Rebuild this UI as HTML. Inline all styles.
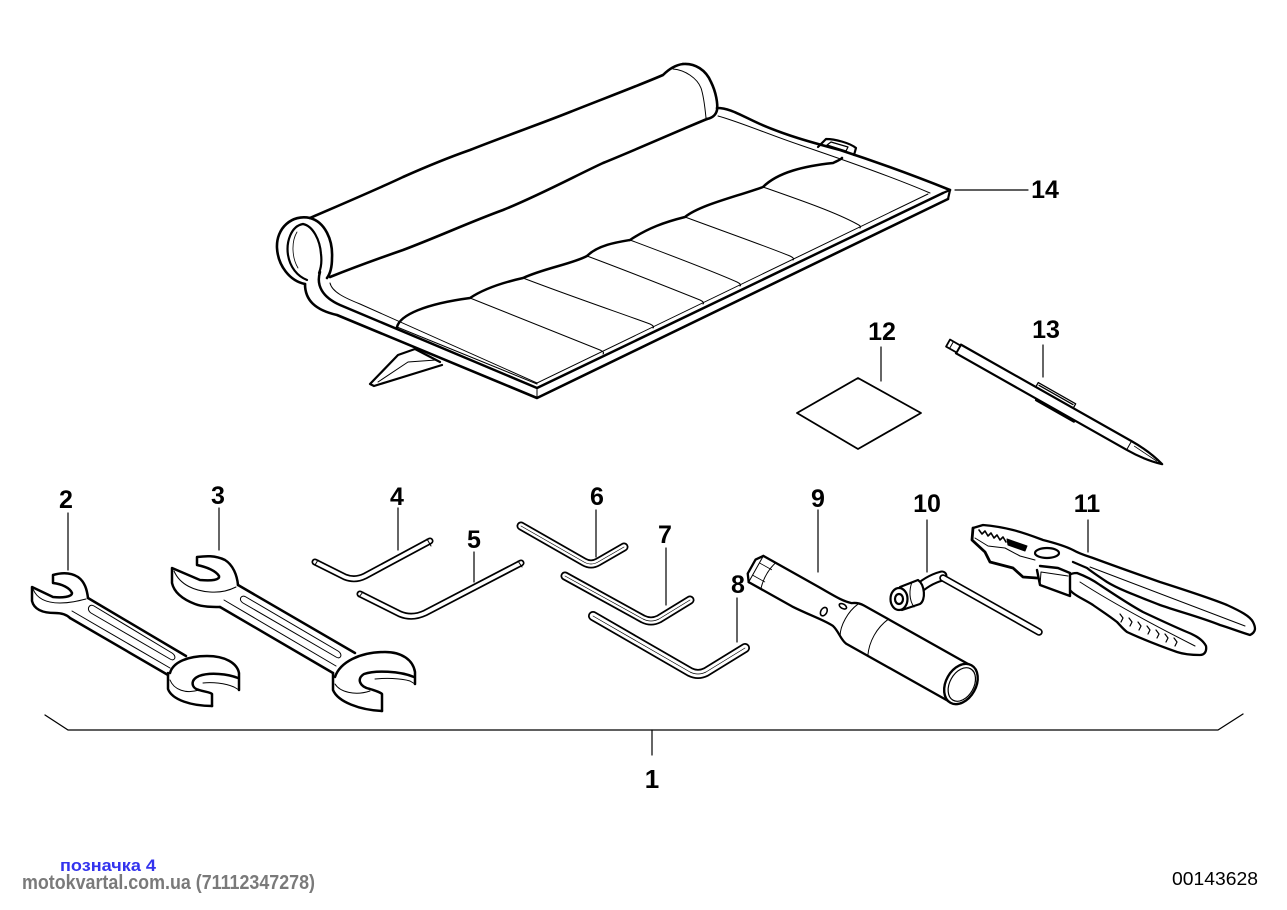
<!DOCTYPE html>
<html><head><meta charset="utf-8">
<style>
html,body{margin:0;padding:0;background:#fff;}
svg{display:block;}
.lb{font-family:"Liberation Sans",Arial,sans-serif;font-weight:bold;font-size:25px;fill:#000;text-anchor:middle;}
</style></head><body>
<svg width="1287" height="910" viewBox="0 0 1287 910" xmlns="http://www.w3.org/2000/svg">
<rect width="1287" height="910" fill="#fff"/>
<g fill="none" stroke="#000" stroke-linejoin="round" stroke-linecap="round">

<!-- ===== TOOL ROLL (14) ===== -->
<path d="M 440,362 L 415,349 L 398,355 L 370,384 L 374,386 L 442,365" stroke-width="2.2"/>
<path d="M 378,382 L 408,362 L 436,360" stroke-width="1"/>
<path d="M 305,284 C 305,300 315,310 337,315 L 537,398 L 948,199 L 950,190 L 853,155 L 717,108 L 330,277 Z" fill="#fff" stroke="none"/>

<path d="M 310,218 C 340,205 380,188 403,177 C 430,165 450,157 470,150 C 500,138 540,124 570,112 C 600,100 640,85 663,75 C 668,70 675,65 683,64" stroke-width="2.6"/>
<path d="M 683,64 C 695,63 706,70 711,82 C 716,92 718,104 717,110 C 716,115 712,118 707,119" stroke-width="2.6"/>
<path d="M 673,69 C 685,70 697,78 701,88 C 704,97 705,108 706,118" stroke-width="1"/>
<path d="M 330,277 C 360,265 380,258 403,250 C 440,236 470,222 503,210 C 540,195 575,176 603,163 C 640,148 680,130 707,119" stroke-width="2.6"/>
<path d="M 310,218 C 292,214 276,228 277,248 C 278,266 290,281 305,284" stroke-width="2.6"/>
<path d="M 310,218 C 325,222 333,240 332,258 C 332,268 330,274 327,278" stroke-width="2.6"/>
<path d="M 303,224 C 291,226 286,242 288,255 C 290,267 297,276 307,280" stroke-width="2.2"/>
<path d="M 303,224 C 313,226 320,240 321,254 C 322,262 321,268 319,273" stroke-width="2.2"/>
<path d="M 297,232 C 291,242 292,258 298,268" stroke-width="0.8"/>

<path d="M 320,272 C 316,285 322,297 340,305 L 537,388 L 943,193" stroke-width="2.5"/>
<path d="M 305,284 C 305,300 315,310 337,315 L 537,398 L 948,199" stroke-width="2.6"/>
<path d="M 943,193 L 950,190 L 948,199" stroke-width="2.2"/>
<path d="M 537,388 L 537,398" stroke-width="1"/>
<path d="M 330,283 C 332,292 345,298 360,304 L 537,383 L 928,194" stroke-width="1"/>
<path d="M 717,108 C 730,108 740,115 760,124 C 785,135 810,142 840,150 C 880,163 920,178 950,190" stroke-width="2.6"/>
<path d="M 718,116 C 740,122 770,135 800,145 C 850,162 895,178 930,193" stroke-width="1"/>
<path d="M 818,147 L 826,139 C 835,139 850,143 856,148 L 854,155" stroke-width="2.2"/>
<path d="M 827,145 L 831,142 L 848,147 L 846,151 Z" stroke-width="1.2"/>
<path d="M 397,327 C 400,315 425,304 470,298 C 485,288 505,282 523,278 C 545,268 572,264 587,256 C 598,245 618,242 630,240 C 648,228 665,222 685,217 C 700,205 735,197 763,187 C 778,172 805,166 833,163 C 837,161 840,160 842,158" stroke-width="2.5"/>
<g stroke-width="1">
<path d="M 470,298 C 520,318 570,338 600,350 C 604,352 604,353 603,354"/>
<path d="M 523,278 C 570,296 620,313 650,324 C 654,326 654,327 653,328"/>
<path d="M 587,256 C 630,272 670,288 700,300 C 704,302 704,303 703,304"/>
<path d="M 630,240 C 670,255 710,270 737,282 C 741,284 741,285 740,286"/>
<path d="M 685,217 C 720,230 760,244 790,256 C 794,258 794,259 793,260"/>
<path d="M 763,187 C 800,200 835,212 857,224 C 861,226 861,227 860,228"/>
<path d="M 397,327 L 537,384"/>
</g>
<path d="M 955,190 L 1028,190" stroke-width="1.2"/>

<!-- ===== 12 square ===== -->
<path d="M 858,378 L 921,413 L 858,449 L 797,413 Z" stroke-width="1.8"/>
<path d="M 881,347 L 881,381" stroke-width="1.2"/>

<!-- ===== 13 pen ===== -->
<g transform="translate(955,347) rotate(29.5)">
<path d="M 4,-5 L 200,-5 C 215,-5 228,-3 238,0 C 228,3 215,5 200,5 L 4,5 Z" fill="#fff" stroke-width="2.2"/>
<path d="M -8,-4 L 4,-4 L 4,4 L -8,4 Z" fill="#fff" stroke-width="1.8"/>
<path d="M -4,-4 L -4,4" stroke-width="1"/>
<path d="M 200,-5 L 200,5" stroke-width="1"/>
<path d="M 205,-2 L 232,0" stroke-width="0.8"/>
<path d="M 90,-10 L 133,-10 L 133,-5 M 90,-10 L 90,-5 M 92,-8 L 131,-8" stroke-width="1.3"/>
<path d="M 97,6 L 140,6" stroke-width="3"/>
</g>
<path d="M 1043,345 L 1043,377" stroke-width="1.2"/>

<!-- ===== 2 wrench ===== -->
<g stroke-width="2.5">
<path d="M 88,598 C 87,590 85,582 78,577 C 70,572 60,573 53,575 L 53,583 C 62,584 70,588 72,593 C 72,597 62,598 53,597 L 32,587 L 32,601 C 34,609 42,613 55,613 C 62,613 67,615 70,618"/>
<path d="M 88,598 L 186,656"/>
<path d="M 70,618 L 168,675"/>
<path d="M 170,673 C 173,662 188,656 207,656 C 225,656 237,663 239,673 L 239,690"/>
<path d="M 238,678 C 228,674 210,672 199,676 C 190,680 191,688 199,690 C 205,692 210,692 212,694 L 212,706"/>
<path d="M 168,673 L 168,689 C 172,700 192,706 212,706"/>
</g>
<g stroke-width="1">
<path d="M 33,589 C 37,599 47,603 60,603 C 70,603 78,601 86,599"/>
<path d="M 72,611 L 170,668"/>
<path d="M 94,606 L 172,653 C 177,656 175,662 170,659 L 91,613 C 86,610 89,603 94,606 Z"/>
<path d="M 239,690 L 234,687 C 225,683 212,682 203,683"/>
<path d="M 170,680 C 174,690 186,694 199,690"/>
</g>
<path d="M 68,513 L 68,570" stroke-width="1.2"/>

<!-- ===== 3 wrench ===== -->
<g stroke-width="2.5">
<path d="M 238,585 C 237,575 233,565 225,560 C 215,555 205,556 197,557 L 197,565 C 207,567 216,571 219,576 C 220,580 212,581 200,580 L 172,568 L 172,583 C 174,592 182,599 195,604 C 203,607 212,607 220,607"/>
<path d="M 238,585 L 355,653"/>
<path d="M 220,607 L 333,673"/>
<path d="M 335,677 C 340,662 360,652 385,652 C 402,652 413,660 415,672 L 415,684"/>
<path d="M 414,677 C 400,671 375,670 364,674 C 356,679 360,687 370,689 C 376,691 380,692 382,694 L 382,711"/>
<path d="M 333,673 L 333,690 C 338,702 360,710 382,711"/>
</g>
<g stroke-width="1">
<path d="M 174,571 C 180,585 195,591 210,592 C 222,593 230,590 236,587"/>
<path d="M 224,600 L 336,666"/>
<path d="M 246,597 L 338,651 C 343,654 341,660 336,657 L 243,603 C 238,600 241,594 246,597 Z"/>
<path d="M 415,684 L 410,681 C 400,678 385,678 375,679"/>
<path d="M 335,684 C 340,692 355,696 370,691"/>
</g>
<path d="M 219,508 L 219,550" stroke-width="1.2"/>

<!-- ===== hex keys ===== -->
<g>
<path d="M 315,562 L 345,577 Q 355,581 365,576 L 430,541" stroke-width="7"/>
<path d="M 315,562 L 345,577 Q 355,581 365,576 L 430,541" stroke="#fff" stroke-width="3.6"/>
<path d="M 360,594 L 400,614 Q 412,619 425,613 L 521,563" stroke-width="7"/>
<path d="M 360,594 L 400,614 Q 412,619 425,613 L 521,563" stroke="#fff" stroke-width="3.6"/>
<path d="M 521,526 L 584,562 Q 591,566 598,562 L 624,547" stroke-width="9"/>
<path d="M 521,526 L 584,562 Q 591,566 598,562 L 624,547" stroke="#fff" stroke-width="5.5"/>
<path d="M 521,526 L 584,562 Q 591,566 598,562 L 624,547" stroke-width="0.7"/>
<path d="M 565,576 L 643,619 Q 651,623 659,619 L 690,600" stroke-width="9"/>
<path d="M 565,576 L 643,619 Q 651,623 659,619 L 690,600" stroke="#fff" stroke-width="5.5"/>
<path d="M 565,576 L 643,619 Q 651,623 659,619 L 690,600" stroke-width="0.7"/>
<path d="M 593,616 L 690,672 Q 698,676 706,672 L 745,648" stroke-width="10"/>
<path d="M 593,616 L 690,672 Q 698,676 706,672 L 745,648" stroke="#fff" stroke-width="6.5"/>
<path d="M 593,616 L 690,672 Q 698,676 706,672 L 745,648" stroke-width="0.7"/>
<path d="M 427,539 L 431,546 M 518,561 L 522,567 M 318,560 L 315,565 M 363,592 L 359,597" stroke-width="1"/>
</g>
<path d="M 398,508 L 398,550" stroke-width="1.2"/>
<path d="M 474,552 L 474,582" stroke-width="1.2"/>
<path d="M 596,510 L 596,557" stroke-width="1.2"/>
<path d="M 666,548 L 666,605" stroke-width="1.2"/>
<path d="M 737,598 L 737,642" stroke-width="1.2"/>

<!-- ===== 9 tube wrench ===== -->
<g transform="translate(756,569) rotate(29.3)">
<path d="M 0,-15 L 60,-15 C 80,-15 90,-14 100,-17 C 104,-20 108,-21 112,-21 L 234,-21 L 234,21 L 115,21 C 108,20 103,14 95,12 C 85,11 70,14 50,15 L 0,15 Z" fill="#fff" stroke="none"/>
<path d="M 0,-15 L 60,-15 C 80,-15 90,-14 100,-17 C 104,-20 108,-21 112,-21 L 234,-21" stroke-width="2.3"/>
<path d="M 0,15 L 50,15 C 70,14 85,11 95,12 C 103,14 108,20 115,21 L 234,21" stroke-width="2.3"/>
<path d="M 0,-15 L -5,-8 L -5,8 L 0,15" stroke-width="2.3"/>
<path d="M 0,-15 L 0,15" stroke-width="1"/>
<path d="M 14,-15 C 11,-5 11,5 14,15" stroke-width="1"/>
<path d="M 0,-7 L 14,-7 M 0,7 L 14,7" stroke-width="0.8"/>
<path d="M 106,-19 C 101,-8 101,8 106,17" stroke-width="1"/>
<path d="M 140,-21 C 134,-8 134,8 140,21" stroke-width="1"/>
<ellipse cx="80" cy="4" rx="3" ry="4.5" stroke-width="1.6"/>
<ellipse cx="94" cy="-10" rx="4" ry="2.2" stroke-width="1.6"/>
<ellipse cx="235" cy="0" rx="15" ry="21.5" fill="#fff" stroke-width="2.4"/>
<ellipse cx="236" cy="0" rx="12" ry="18" stroke-width="1.2"/>
</g>
<path d="M 818,510 L 818,572" stroke-width="1.2"/>

<!-- ===== 10 socket wrench ===== -->
<path d="M 915,592 Q 927,580 942,576" stroke-width="11"/>
<path d="M 915,592 Q 927,580 942,576" stroke="#fff" stroke-width="7"/>
<path d="M 943,578 L 1039,632" stroke-width="7.5"/>
<path d="M 943,578 L 1039,632" stroke="#fff" stroke-width="4.2"/>
<path d="M 900,587 L 918,580 C 925,585 926,600 920,604 L 902,610 Z" fill="#fff" stroke-width="2.2"/>
<path d="M 912,582 C 909,590 909,600 914,607" stroke-width="1"/>
<ellipse cx="899" cy="599" rx="8.5" ry="11" fill="#fff" stroke-width="2.2"/>
<ellipse cx="899" cy="599" rx="4" ry="5" stroke-width="2.2"/>
<path d="M 927,520 L 927,572" stroke-width="1.2"/>

<!-- ===== 11 pliers ===== -->
<path d="M 1067,582 C 1066,576 1070,573 1077,573 C 1085,576 1093,580 1100,585 C 1115,595 1130,605 1143,612 C 1160,620 1175,627 1187,632 C 1197,636 1203,640 1206,646 C 1207,652 1204,655 1200,655 C 1190,655 1183,654 1177,652 C 1160,646 1140,638 1127,632 C 1122,628 1120,625 1117,622 C 1108,615 1100,610 1093,605 C 1085,600 1078,597 1073,593 C 1069,590 1067,586 1067,582 Z" fill="#fff" stroke-width="2.3"/>
<path d="M 973,528 L 983,525 C 995,526 1005,528 1013,530 C 1025,533 1035,537 1043,540 C 1055,543 1065,546 1073,550 C 1080,554 1087,556 1093,558 C 1120,568 1140,575 1160,582 C 1185,590 1210,598 1227,605 C 1240,611 1250,616 1253,622 C 1256,628 1256,632 1250,635 C 1240,632 1230,628 1220,625 C 1200,617 1180,612 1160,605 C 1140,597 1120,590 1107,582 C 1098,576 1092,572 1087,568 L 1073,562" fill="#fff" stroke-width="2.3"/>
<path d="M 973,528 L 972,540 L 985,552 L 990,562 L 1013,568 L 1023,577 L 1037,578" stroke-width="2.8"/>
<path d="M 975,538 L 988,546 L 1005,548 L 1020,556 L 1035,560" stroke-width="1"/>
<path d="M 979,530 l 3,4 l 3,-3 l 3,5 l 3,-3 l 3,5 l 3,-3 l 3,5 l 3,-3 l 3,5" stroke-width="1.6"/>
<path d="M 1007,539 L 1027,546 L 1025,551 L 1008,545 Z" fill="#000" stroke-width="1"/>
<ellipse cx="1047" cy="553" rx="12" ry="5" stroke-width="2.2"/>
<path d="M 1037,570 L 1040,585 L 1070,596 L 1070,573 L 1058,568 L 1040,566" fill="#fff" stroke-width="2.4"/>
<path d="M 1040,585 L 1041,572 L 1068,576" stroke-width="1"/>
<path d="M 1090,567 L 1245,626" stroke-width="1"/>
<path d="M 1080,582 C 1100,595 1140,618 1195,646" stroke-width="1"/>
<g stroke-width="1.2">
<path d="M 1120,614 l 3,4 l -2,4"/>
<path d="M 1129,618 l 3,4 l -2,4"/>
<path d="M 1138,622 l 3,4 l -2,4"/>
<path d="M 1147,626 l 3,4 l -2,4"/>
<path d="M 1156,630 l 3,4 l -2,4"/>
<path d="M 1165,634 l 3,4 l -2,4"/>
<path d="M 1174,638 l 3,4 l -2,4"/>
</g>
<path d="M 1088,520 L 1088,552" stroke-width="1.2"/>

<!-- ===== bracket 1 ===== -->
<path d="M 45,715 L 68,730 L 1218,730 L 1243,714" stroke-width="1.3"/>
<path d="M 652,730 L 652,755" stroke-width="1.2"/>
</g>

<!-- labels -->
<text class="lb" x="1045" y="198">14</text>
<text class="lb" x="882" y="340">12</text>
<text class="lb" x="1046" y="338">13</text>
<text class="lb" x="66" y="508">2</text>
<text class="lb" x="218" y="504">3</text>
<text class="lb" x="397" y="505">4</text>
<text class="lb" x="474" y="548">5</text>
<text class="lb" x="597" y="505">6</text>
<text class="lb" x="665" y="543">7</text>
<text class="lb" x="738" y="593">8</text>
<text class="lb" x="818" y="507">9</text>
<text class="lb" x="927" y="512">10</text>
<text class="lb" x="1087" y="512">11</text>
<text class="lb" x="652" y="788" style="font-size:26px">1</text>

<text x="60" y="871" textLength="96" lengthAdjust="spacingAndGlyphs" style="font-family:'Liberation Sans',sans-serif;font-weight:bold;font-size:17px;fill:#3333ee;">позначка 4</text>
<text x="22" y="889" textLength="293" lengthAdjust="spacingAndGlyphs" style="font-family:'Liberation Sans',sans-serif;font-weight:bold;font-size:20px;fill:#7a7a7a;">motokvartal.com.ua (71112347278)</text>
<text x="1172" y="885" textLength="86" lengthAdjust="spacingAndGlyphs" style="font-family:'Liberation Sans',sans-serif;font-size:18px;fill:#000;">00143628</text>
</svg>
</body></html>
